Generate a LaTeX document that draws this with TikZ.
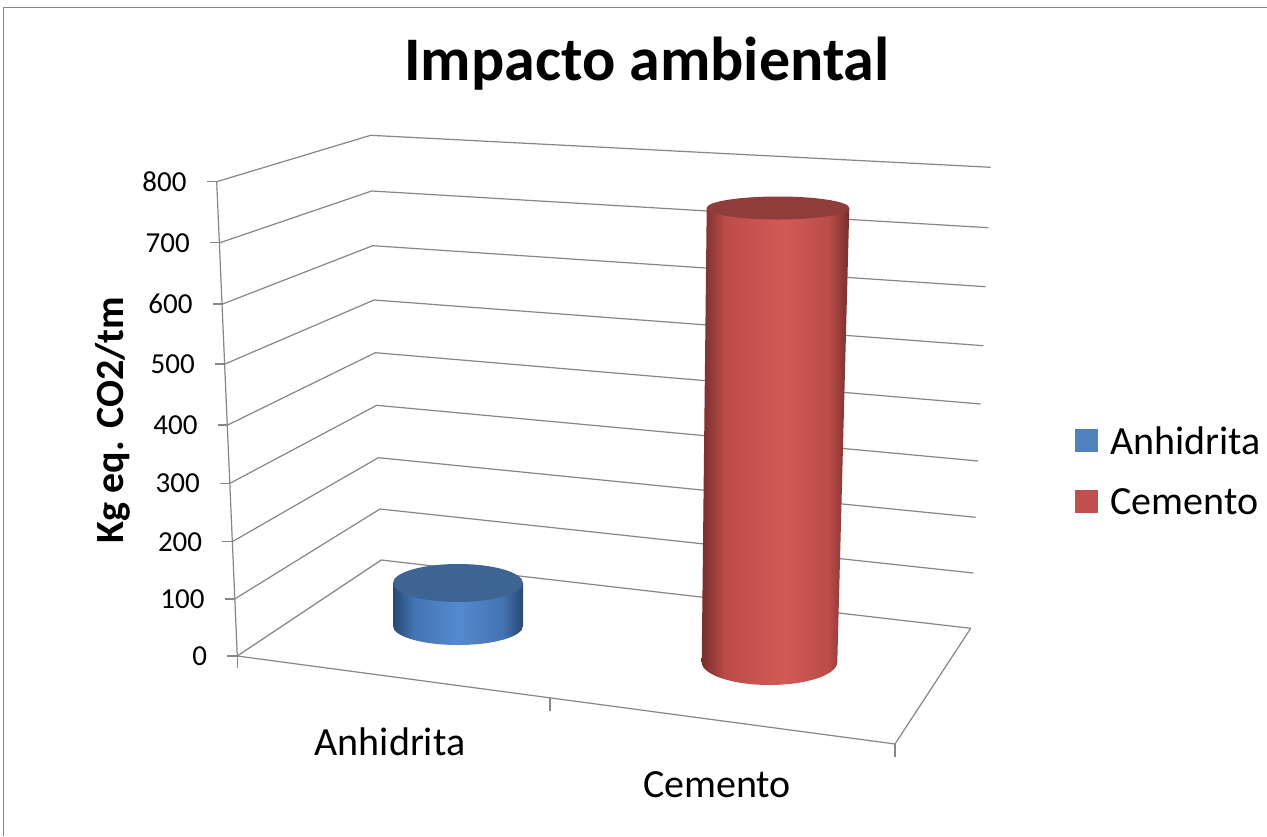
\documentclass[tikz,border=0pt]{standalone}
\usepackage{fontspec}
\setmainfont{Carlito}
\usepackage{tikz}
\usetikzlibrary{positioning,calc}
\definecolor{gridc}{RGB}{134,134,134}
\definecolor{anhb}{RGB}{79,129,189}
\definecolor{anhdark}{RGB}{38,72,116}
\definecolor{anhmid}{RGB}{68,116,178}
\definecolor{anhlight}{RGB}{84,138,208}
\definecolor{anhtopc}{RGB}{61,100,147}
\definecolor{cemr}{RGB}{192,80,77}
\definecolor{cemdark}{RGB}{118,46,44}
\definecolor{cemmid}{RGB}{188,76,73}
\definecolor{cemlight}{RGB}{210,90,86}
\definecolor{cemtopc}{RGB}{143,60,58}
\pgfdeclarehorizontalshading{anhshade}{100bp}{color(0bp)=(anhdark); color(25bp)=(anhdark);
	color(33bp)=(anhmid); color(50bp)=(anhlight); color(67bp)=(anhmid); color(75bp)=(anhdark); color(100bp)=(anhdark)}
\pgfdeclarehorizontalshading{cemshade}{100bp}{color(0bp)=(cemdark); color(25bp)=(cemdark);
	color(33bp)=(cemmid); color(53bp)=(cemlight); color(68bp)=(cemmid); color(75bp)=(cemdark); color(100bp)=(cemdark)}
\tikzset{
	gline/.style = { draw=gridc, line width=1.2pt },
	ticklbl/.style = { font=\fontsize{29}{31}\selectfont, anchor=east, inner sep=0 },
	catlbl/.style = { font=\fontsize{40}{44}\selectfont, anchor=base, inner sep=0 },
	legbox/.style = { rectangle, minimum size=23pt, inner sep=0 },
	legtxt/.style = { font=\fontsize{40}{44}\selectfont, inner sep=0 },
	anhside/.style = { shading=anhshade },
	cemside/.style = { shading=cemshade },
}

\begin{document}
\begin{tikzpicture}[x=1pt,y=-1pt,node distance=12pt]
\fill[white] (0,0) rectangle (1267,836);
\useasboundingbox (0,0) rectangle (1267,836);
\draw[gridc,line width=1pt] (3,836) -- (3,7) -- (1267,7);

\node (title) [font=\bfseries\fontsize{62}{66}\selectfont, anchor=base] at (647,80) {Impacto ambiental};

% back walls
\foreach \v/\lx/\ly/\mx/\my/\rx/\ry in {800/216.7/181.7/370.7/135.3/990.7/167.3,
	700/220/242.7/371.7/191/988.3/227.7, 600/222.7/304/372.7/245.7/985.7/286.7,
	500/225/364/374/300/983.3/345.7, 400/227.7/425/375.3/352.7/980.7/404,
	300/230/483.3/376.7/405.3/978.3/461, 200/232.3/541.7/378.3/457.7/975.7/517.3,
	100/234.7/599/380/509/973.3/573, 0/237.3/656/381.3/560/970.7/628.3} {
	\coordinate (l\v) at (\lx,\ly);
	\coordinate (m\v) at (\mx,\my);
	\coordinate (r\v) at (\rx,\ry);
	\draw[gline] (l\v) -- (m\v) -- (r\v);
	\draw[gline] (l\v) -- ++(-10,0);
	\node (t\v) [ticklbl] at ($(l\v)+(-30,0)$) {\v};
}
\draw[gline] (l800) -- (l0);

% floor
\coordinate (ffr) at (895,744);
\coordinate (fmid) at (550,698);
\draw[gline] (l0) -- (ffr) -- (r0);
\draw[gline] (l0) -- ++(0,12);
\draw[gline] (fmid) -- ++(0,13);
\draw[gline] (ffr) -- ++(0,13);

\node (ytitle) [font=\bfseries\fontsize{40}{44}\selectfont, rotate=90] at (113,420) {Kg eq. CO2/tm};
\node (canh) [catlbl] at (390,755) {Anhidrita};
\node (ccem) [catlbl] at (717,797) {Cemento};

% cylinders
\coordinate (anhtop) at (458,583);
\coordinate (anhbot) at (458,626);
\shade[anhside] ($(anhtop)+(-65,0)$) -- ($(anhbot)+(-65,0)$) arc[start angle=180, end angle=360, x radius=65pt, y radius=19pt] -- ($(anhtop)+(65,0)$) -- cycle;
\fill[anhtopc] (anhtop) ellipse [x radius=65pt, y radius=19pt];

\coordinate (cemtop) at (778,208);
\coordinate (cembot) at (769.5,662);
\shade[cemside] ($(cemtop)+(-71.3,0)$) -- ($(cembot)+(-67.8,0)$) arc[start angle=180, end angle=360, x radius=67.8pt, y radius=23pt] -- ($(cemtop)+(71.3,0)$) -- cycle;
\fill[cemtopc] (cemtop) ellipse [x radius=71.3pt, y radius=11.5pt];

% legend
\node (lgA) [legbox, fill=anhb] at (1086.5,440.5) {};
\node (lgC) [legbox, fill=cemr, below=38pt of lgA] {};
\node (lgAt) [legtxt, right=of lgA] {Anhidrita};
\node (lgCt) [legtxt, right=of lgC] {Cemento};

\end{tikzpicture}
\end{document}
